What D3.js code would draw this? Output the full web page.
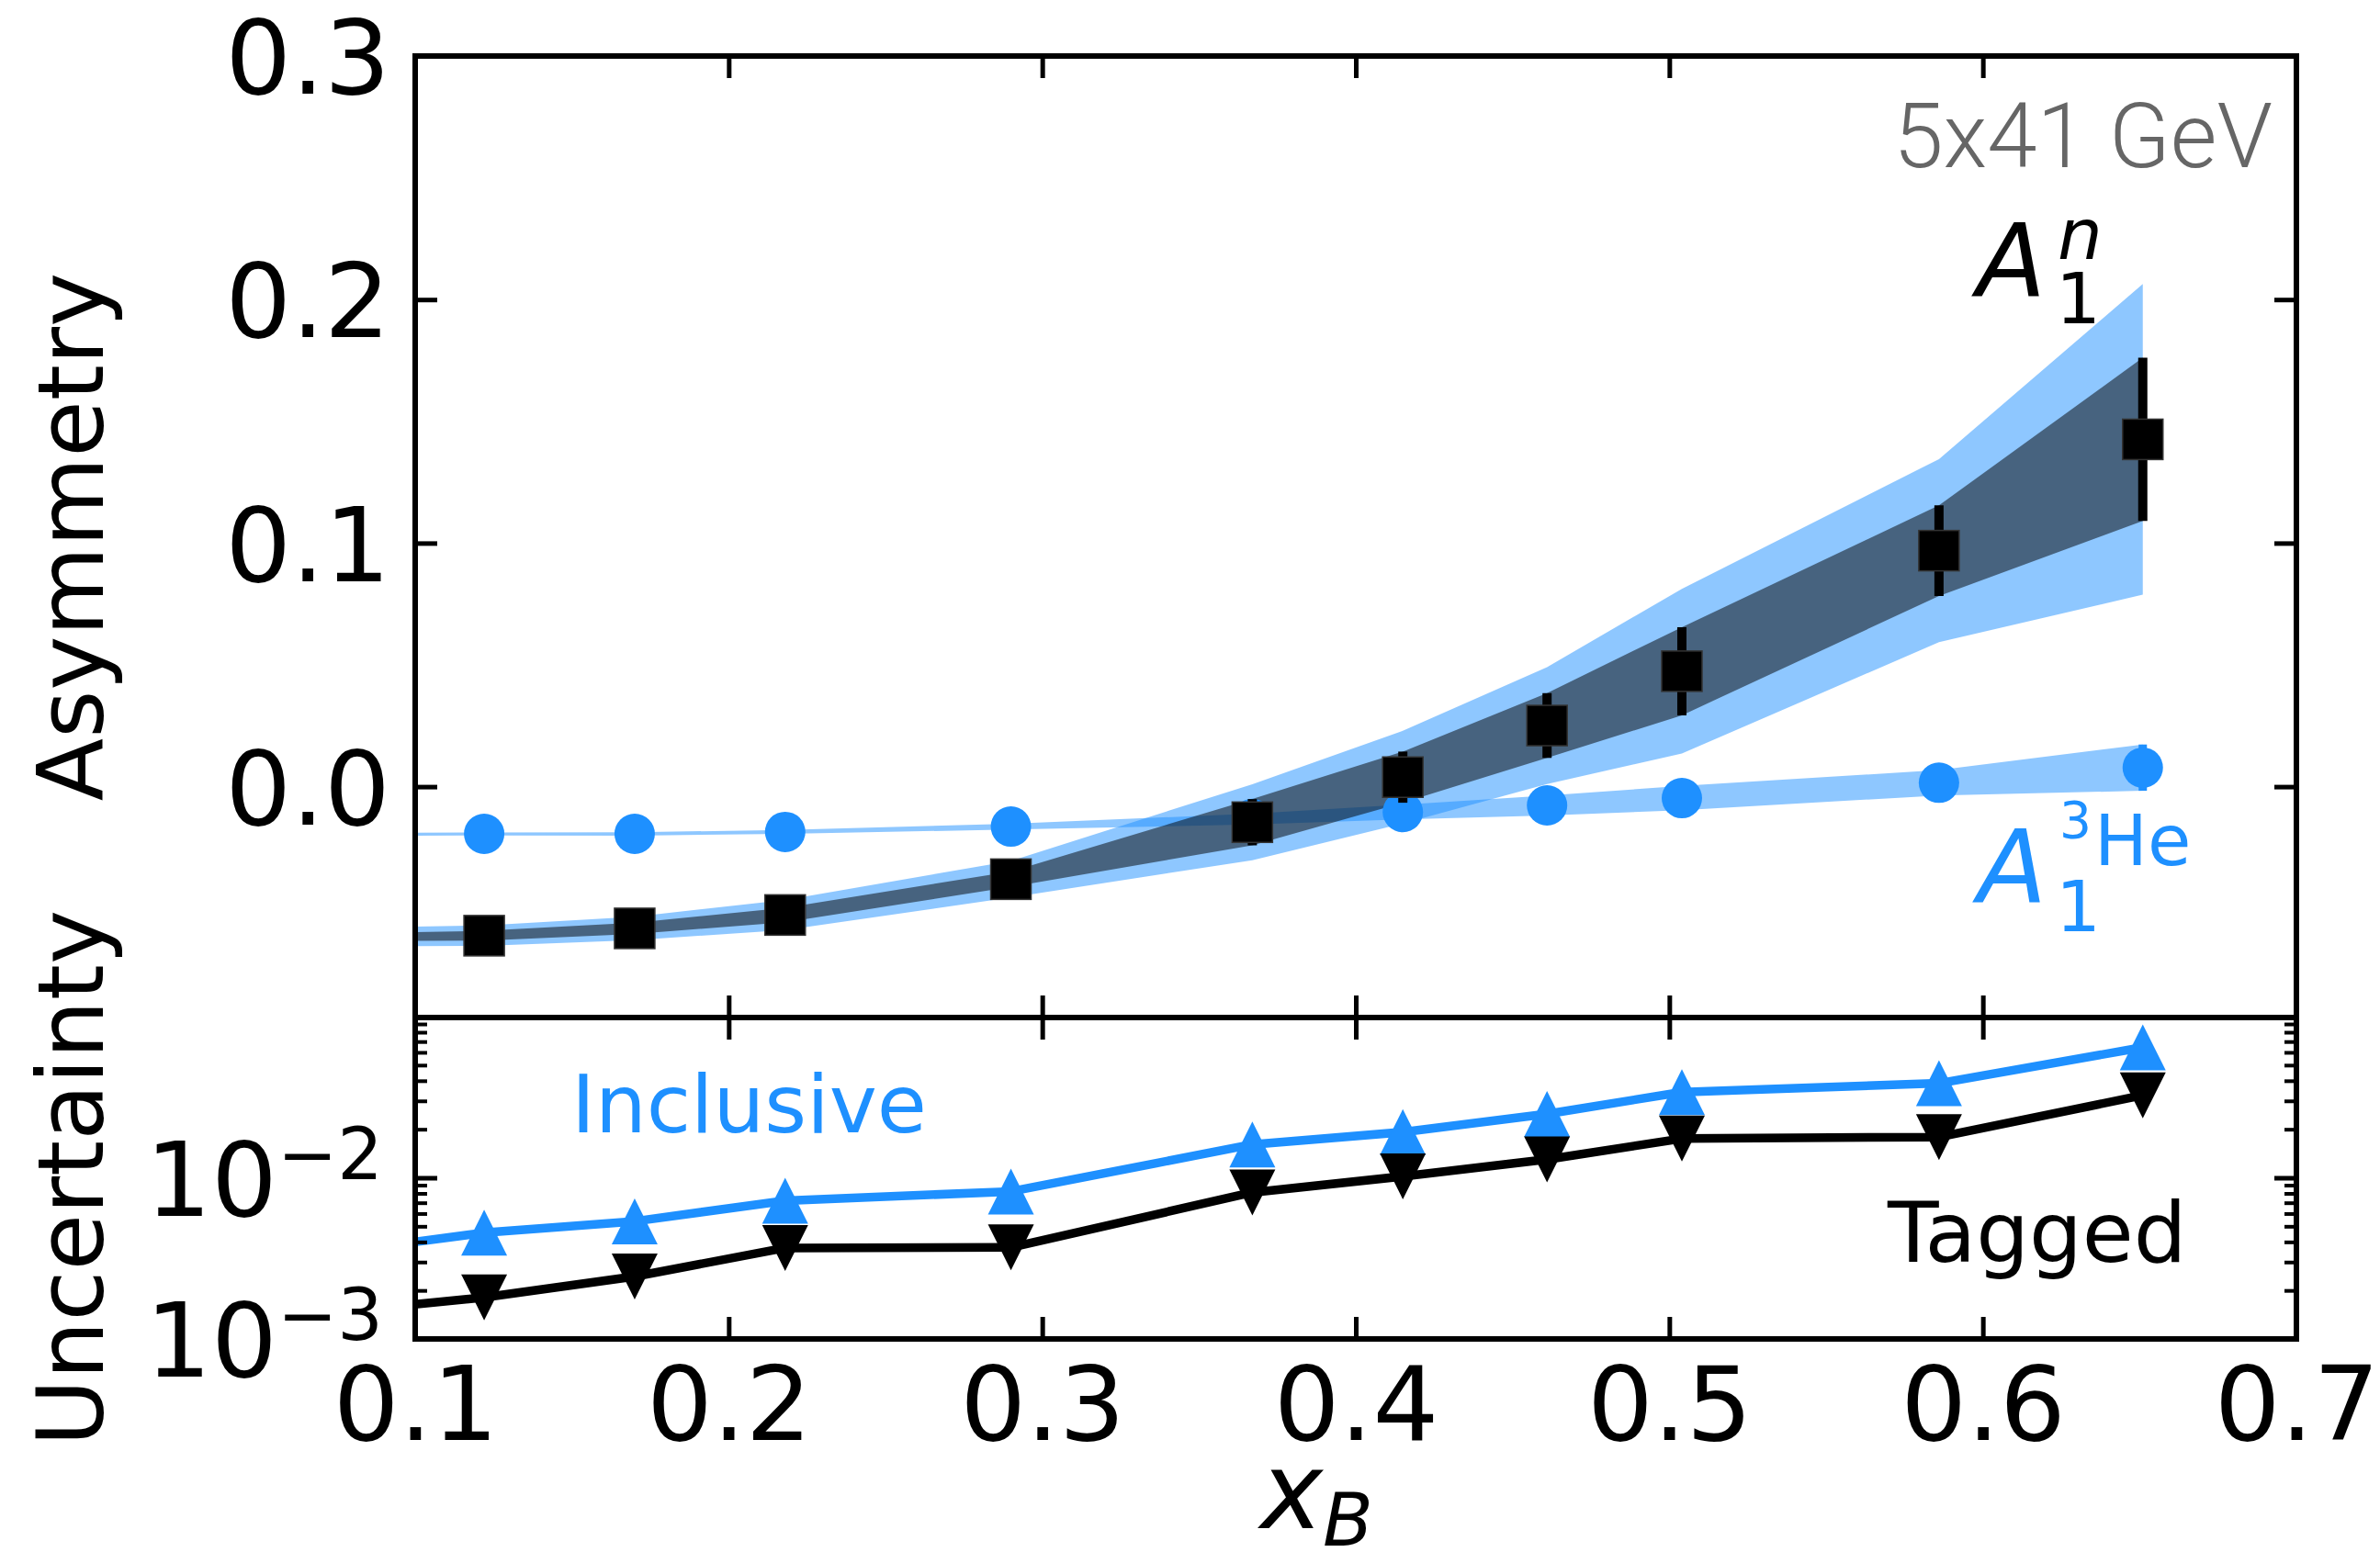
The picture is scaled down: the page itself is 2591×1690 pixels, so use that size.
<!DOCTYPE html>
<html>
<head>
<meta charset="utf-8">
<script src="https://cdn.jsdelivr.net/npm/d3@7"></script>
<style>
  body { margin: 0; background: #fff; }
  svg text { font-family: "DejaVu Sans", sans-serif; }
</style>
</head>
<body>
<div id="chart"></div>
<script>
// x_B bins
var xB = [0.122, 0.170, 0.218, 0.290, 0.367, 0.415, 0.461, 0.504, 0.586, 0.651];

// A1 neutron: value, stat error (dark band / bars), total error (light band)
var a1nVal  = [-0.0612, -0.0582, -0.0527, -0.0380, -0.0146, 0.0039, 0.0251, 0.0474, 0.0969, 0.1426];
var a1nStat = [0.0020, 0.0023, 0.0030, 0.0032, 0.0095, 0.0105, 0.0133, 0.0181, 0.0186, 0.0335];
var a1nTot  = [0.0042, 0.0048, 0.0062, 0.0075, 0.0156, 0.0190, 0.0240, 0.0338, 0.0376, 0.0638];

// A1 3He
var heVal = [-0.0194, -0.0194, -0.0186, -0.0164, -0.0133, -0.0104, -0.0077, -0.0047, 0.0016, 0.0078];
var heErr = [0.0006, 0.0007, 0.0008, 0.0012, 0.0022, 0.0030, 0.0041, 0.0050, 0.0052, 0.0095];

// uncertainties (lower panel)
var inclusive = [0.00456, 0.00537, 0.00721, 0.00822, 0.0161, 0.0192, 0.0249, 0.0340, 0.0386, 0.0644];
var tagged    = [0.00181, 0.00244, 0.00367, 0.00370, 0.00811, 0.0102, 0.0130, 0.0175, 0.0179, 0.0325];

// values where the curves meet the left frame (x = 0.1)
var edgeX = 0.1;
var a1nEdge = [-0.0615, 0.0018, 0.0040];
var heEdge = [-0.0195, 0.0006];
var inclEdge = 0.0040, tagEdge = 0.00164;

var xTicks = [0.1, 0.2, 0.3, 0.4, 0.5, 0.6, 0.7];
var yTicks = [0.0, 0.1, 0.2, 0.3];
var logMajor = [1e-3, 1e-2];

var width = 2591, height = 1690;
var pl = 452, pr = 2500, pt = 61, pm = 1108, pb = 1458;
var blue = "#1e90ff";
var FS = 113;

var svg = d3.select("#chart").append("svg")
    .attr("width", width).attr("height", height);

var x = d3.scaleLinear().domain([0.1, 0.7]).range([pl, pr]);
var yA = d3.scaleLinear().domain([-0.0948, 0.3]).range([pm, pt]);
var yU = d3.scaleLog().domain([1e-3, 0.0987]).range([pb, pm]);

var defs = svg.append("defs");
defs.append("clipPath").attr("id", "clipTop").append("rect")
    .attr("x", pl).attr("y", pt).attr("width", pr - pl).attr("height", pm - pt);
defs.append("clipPath").attr("id", "clipBot").append("rect")
    .attr("x", pl).attr("y", pm).attr("width", pr - pl).attr("height", pb - pm);

// rows for bands, including the left-edge value
var nRows = [{x: edgeX, v: a1nEdge[0], s: a1nEdge[1], t: a1nEdge[2]}].concat(
    xB.map(function(d, i) { return {x: d, v: a1nVal[i], s: a1nStat[i], t: a1nTot[i]}; }));
var heRows = [{x: edgeX, v: heEdge[0], e: heEdge[1]}].concat(
    xB.map(function(d, i) { return {x: d, v: heVal[i], e: heErr[i]}; }));

var gTop = svg.append("g").attr("clip-path", "url(#clipTop)");

// light (total) band
gTop.append("path").datum(nRows)
    .attr("fill", blue).attr("fill-opacity", 0.5)
    .attr("d", d3.area().x(function(d) { return x(d.x); })
        .y0(function(d) { return yA(d.v - d.t); })
        .y1(function(d) { return yA(d.v + d.t); }));

// 3He band
gTop.append("path").datum(heRows)
    .attr("fill", blue).attr("fill-opacity", 0.5)
    .attr("d", d3.area().x(function(d) { return x(d.x); })
        .y0(function(d) { return yA(d.v - d.e); })
        .y1(function(d) { return yA(d.v + d.e); }));

// dark (stat) band
gTop.append("path").datum(nRows)
    .attr("fill", "#000").attr("fill-opacity", 0.5)
    .attr("d", d3.area().x(function(d) { return x(d.x); })
        .y0(function(d) { return yA(d.v - d.s); })
        .y1(function(d) { return yA(d.v + d.s); }));

// 3He points
xB.forEach(function(d, i) {
    gTop.append("line")
        .attr("x1", x(d)).attr("x2", x(d))
        .attr("y1", yA(heVal[i] - heErr[i])).attr("y2", yA(heVal[i] + heErr[i]))
        .attr("stroke", blue).attr("stroke-width", 9);
    gTop.append("circle")
        .attr("cx", x(d)).attr("cy", yA(heVal[i])).attr("r", 22)
        .attr("fill", blue);
});

// neutron points
xB.forEach(function(d, i) {
    gTop.append("line")
        .attr("x1", x(d)).attr("x2", x(d))
        .attr("y1", yA(a1nVal[i] - a1nStat[i])).attr("y2", yA(a1nVal[i] + a1nStat[i]))
        .attr("stroke", "#000").attr("stroke-width", 10);
    gTop.append("rect")
        .attr("x", x(d) - 22).attr("y", yA(a1nVal[i]) - 22)
        .attr("width", 44).attr("height", 44)
        .attr("fill", "#000").attr("stroke", "#333").attr("stroke-width", 1.5);
});

// lower panel
var gBot = svg.append("g").attr("clip-path", "url(#clipBot)");
var uLine = d3.line().x(function(d) { return x(d[0]); }).y(function(d) { return yU(d[1]); });

function drawSeries(vals, edge, color, up) {
    var pts = [[edgeX, edge]].concat(xB.map(function(d, i) { return [d, vals[i]]; }));
    gBot.append("path").datum(pts)
        .attr("fill", "none").attr("stroke", color).attr("stroke-width", 9.5)
        .attr("stroke-linejoin", "round")
        .attr("d", uLine);
    var tri = up ? "M0,-25L-25,25L25,25Z" : "M0,25L-25,-25L25,-25Z";
    xB.forEach(function(d, i) {
        gBot.append("path")
            .attr("transform", "translate(" + x(d) + "," + yU(vals[i]) + ")")
            .attr("d", tri).attr("fill", color);
    });
}
drawSeries(inclusive, inclEdge, blue, true);
drawSeries(tagged, tagEdge, "#000", false);

// axes
function styleTicks(g, w) {
    g.select(".domain").remove();
    g.selectAll(".tick line").attr("stroke", "#000").attr("stroke-width", w);
    g.selectAll("text").attr("font-size", FS).attr("font-family", "DejaVu Sans").attr("fill", "#000");
}

// top panel x ticks (top edge and divider)
svg.append("g").attr("transform", "translate(0," + pt + ")")
    .call(d3.axisTop(x).tickValues(xTicks).tickSize(-24).tickFormat(""))
    .call(styleTicks, 5);
svg.append("g").attr("transform", "translate(0," + pm + ")")
    .call(d3.axisBottom(x).tickValues(xTicks).tickSize(-24).tickFormat(""))
    .call(styleTicks, 5);
svg.append("g").attr("transform", "translate(0," + pm + ")")
    .call(d3.axisTop(x).tickValues(xTicks).tickSize(-24).tickFormat(""))
    .call(styleTicks, 5);
svg.append("g").attr("transform", "translate(0," + pb + ")")
    .call(d3.axisBottom(x).tickValues(xTicks).tickSize(-24).tickPadding(30)
        .tickFormat(d3.format(".1f")))
    .call(styleTicks, 5);

// top panel y ticks
var yAxis = svg.append("g").attr("transform", "translate(" + pl + ",0)")
    .call(d3.axisLeft(yA).tickValues(yTicks).tickSize(-24).tickPadding(27)
        .tickFormat(d3.format(".1f")))
    .call(styleTicks, 5);
yAxis.selectAll("text").attr("dy", "0.36em");
svg.append("g").attr("transform", "translate(" + pr + ",0)")
    .call(d3.axisRight(yA).tickValues(yTicks).tickSize(-24).tickFormat(""))
    .call(styleTicks, 5);

// log axis: minor + major ticks
var minor = yU.ticks().filter(function(d) { return logMajor.indexOf(d) < 0; });
[[pl, d3.axisLeft], [pr, d3.axisRight]].forEach(function(p) {
    svg.append("g").attr("transform", "translate(" + p[0] + ",0)")
        .call(p[1](yU).tickValues(minor).tickSize(-13).tickFormat(""))
        .call(styleTicks, 4);
    svg.append("g").attr("transform", "translate(" + p[0] + ",0)")
        .call(p[1](yU).tickValues(logMajor).tickSize(-24).tickFormat(""))
        .call(styleTicks, 5);
});
logMajor.forEach(function(d) {
    var t = svg.append("text")
        .attr("x", pl - 35).attr("y", yU(d) + 41)
        .attr("text-anchor", "end").attr("font-size", FS);
    t.append("tspan").text("10");
    t.append("tspan").attr("font-size", 78).attr("dy", -40)
        .text("\u2212" + Math.round(-Math.log10(d)));
});

// frames
svg.append("rect").attr("x", pl).attr("y", pt)
    .attr("width", pr - pl).attr("height", pm - pt)
    .attr("fill", "none").attr("stroke", "#000").attr("stroke-width", 6);
svg.append("rect").attr("x", pl).attr("y", pm)
    .attr("width", pr - pl).attr("height", pb - pm)
    .attr("fill", "none").attr("stroke", "#000").attr("stroke-width", 6);

// axis titles
svg.append("text").attr("transform", "translate(112," + (pt + pm) / 2 + ") rotate(-90)")
    .attr("text-anchor", "middle").attr("font-size", 100).text("Asymmetry");
svg.append("text").attr("transform", "translate(112," + (pm + pb) / 2 + ") rotate(-90)")
    .attr("text-anchor", "middle").attr("font-size", 100).text("Uncertainty");

var xl = svg.append("text").attr("x", 1372).attr("y", 1664).attr("font-size", 115);
xl.append("tspan").attr("font-style", "italic").text("x");
xl.append("tspan").attr("font-style", "italic").attr("font-size", 80).attr("dy", 19).text("B");

// annotations
svg.append("text").attr("x", 2474).attr("y", 182).attr("text-anchor", "end")
    .style("font-family", "Roboto").style("font-weight", 300)
    .attr("font-size", 98).attr("fill", "#666").text("5x41 GeV");

var an = svg.append("g");
an.append("text").attr("x", 2152).attr("y", 323).attr("font-size", 110)
    .attr("font-style", "italic").text("A");
an.append("text").attr("x", 2238).attr("y", 352).attr("font-size", 77).text("1");
an.append("text").attr("x", 2240).attr("y", 282).attr("font-size", 77)
    .attr("font-style", "italic").text("n");

var ah = svg.append("g");
ah.append("text").attr("x", 2153).attr("y", 983).attr("font-size", 110)
    .attr("font-style", "italic").attr("fill", blue).text("A");
ah.append("text").attr("x", 2238).attr("y", 1014).attr("font-size", 77)
    .attr("fill", blue).text("1");
ah.append("text").attr("x", 2242).attr("y", 912).attr("font-size", 55)
    .attr("fill", blue).text("3");
ah.append("text").attr("x", 2280).attr("y", 942).attr("font-size", 77)
    .attr("fill", blue).text("He");

svg.append("text").attr("x", 622).attr("y", 1233).attr("font-size", 88)
    .attr("fill", blue).text("Inclusive");
svg.append("text").attr("x", 2055).attr("y", 1374).attr("font-size", 91)
    .attr("fill", "#000").text("Tagged");
</script>
</body>
</html>
